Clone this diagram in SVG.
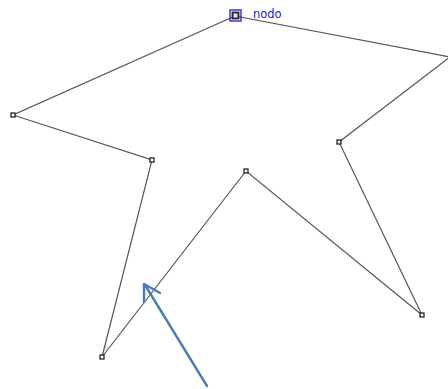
<svg xmlns="http://www.w3.org/2000/svg" width="448" height="389" viewBox="0 0 448 389">
<style>
.edge{fill:none;stroke:#555;stroke-width:1.2}
.node{fill:#fff;stroke:#222;stroke-width:1.3}
</style>
<rect width="448" height="389" fill="#fff"/>
<g id="connectors">
<polyline class="edge" points="235,16 13,115 152,160 102,357 246,171 422,315 339,142 450,57 235,16"/>
<g id="arrow" fill="none" stroke="#4a7ebb" stroke-width="2.4" stroke-linecap="round" stroke-linejoin="round">
<line x1="207" y1="386" x2="145" y2="285"/>
<polyline points="144,302 144,284 160,293"/>
</g>
</g>
<g id="node-top">
<rect x="230" y="10" width="11" height="11" fill="none" stroke="#1a1adc" stroke-width="1.3"/>
<rect x="232.5" y="12.5" width="6" height="6" fill="#ddd" stroke="#222" stroke-width="1.8"/>
<text x="253" y="18" font-family="DejaVu Sans, Verdana, sans-serif" font-size="11.5" fill="#1a1adc">nodo</text>
</g>
<g id="node-left"><rect class="node" x="11" y="113" width="4" height="4"/></g>
<g id="node-2"><rect class="node" x="150" y="158" width="4" height="4"/></g>
<g id="node-3"><rect class="node" x="100" y="355" width="4" height="4"/></g>
<g id="node-4"><rect class="node" x="244" y="169" width="4" height="4"/></g>
<g id="node-5"><rect class="node" x="420" y="313" width="4" height="4"/></g>
<g id="node-6"><rect class="node" x="337" y="140" width="4" height="4"/></g>
</svg>
